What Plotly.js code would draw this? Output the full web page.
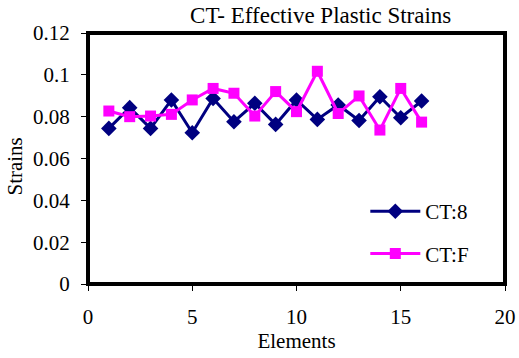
<!DOCTYPE html>
<html>
<head>
<meta charset="utf-8">
<script src="https://cdn.plot.ly/plotly-3.0.1.min.js"></script>
<style>html,body{margin:0;padding:0;background:#fff;}#chart{width:519px;height:358px;}</style>
</head>
<body>
<div id="chart"></div>
<script>
const elements = [1,2,3,4,5,6,7,8,9,10,11,12,13,14,15,16];
const ct8 = [0.0744,0.0843,0.0744,0.0880,0.0723,0.0887,0.0776,0.0864,0.0763,0.0880,0.0787,0.0856,0.0782,0.0895,0.0795,0.0875];
const ctF = [0.0827,0.0800,0.0803,0.0811,0.0880,0.0935,0.0912,0.0803,0.0920,0.0824,0.1017,0.0815,0.0899,0.0736,0.0935,0.0774];
const xTicks = [0,5,10,15,20];
const yTicks = [0,0.02,0.04,0.06,0.08,0.1,0.12];
const yTickText = ['0','0.02','0.04','0.06','0.08','0.1','0.12'];

const font = '"Liberation Serif", "Times New Roman", serif';

const traces = [
  {x: elements, y: ct8, name: 'CT:8', type: 'scatter', mode: 'lines+markers',
   legendgroup: 'a',
   line: {color: '#000080', width: 3},
   marker: {symbol: 'diamond', size: 12, color: '#000080'}},
  {x: elements, y: ctF, name: 'CT:F', type: 'scatter', mode: 'lines+markers',
   legendgroup: 'b',
   line: {color: '#FF00FF', width: 3},
   marker: {symbol: 'square', size: 11, color: '#FF00FF'}}
];

const layout = {
  width: 519, height: 358,
  margin: {l: 88, r: 14, t: 33, b: 74, pad: 0},
  paper_bgcolor: '#fff', plot_bgcolor: '#fff',
  font: {family: font, size: 21, color: '#000'},
  title: {text: 'CT- Effective Plastic Strains', font: {family: font, size: 23, color: '#000'},
          x: 0.558, xref: 'paper', xanchor: 'center', y: 0.958, yref: 'container', yanchor: 'middle'},
  xaxis: {range: [0, 20], tickvals: xTicks, ticktext: xTicks.map(String),
          showgrid: false, zeroline: false, showline: false,
          ticks: 'outside', ticklen: 6, tickwidth: 1, tickcolor: '#000',
          ticklabelstandoff: 8,
          tickfont: {family: font, size: 21},
          title: {text: 'Elements', font: {family: font, size: 21}, standoff: 4}},
  yaxis: {range: [0, 0.12], tickvals: yTicks, ticktext: yTickText,
          showgrid: false, zeroline: false, showline: false,
          ticks: 'outside', ticklen: 6, tickwidth: 1, tickcolor: '#000',
          ticklabelstandoff: 7,
          tickfont: {family: font, size: 21},
          title: {text: 'Strains&nbsp;&nbsp;&nbsp;', font: {family: font, size: 21}, standoff: 4}},
  showlegend: true,
  legend: {x: 0.665, y: 0.37, xanchor: 'left', yanchor: 'top',
           bgcolor: 'rgba(0,0,0,0)', borderwidth: 0,
           itemwidth: 50,
           traceorder: 'grouped', tracegroupgap: 12,
           font: {family: font, size: 21, color: '#000'}},
  shapes: [
    {type: 'rect', xref: 'paper', yref: 'paper', x0: 0, x1: 1, y0: 0, y1: 1,
     line: {color: '#000', width: 4}, fillcolor: 'rgba(0,0,0,0)', layer: 'above'}
  ]
};

Plotly.newPlot('chart', traces, layout, {displayModeBar: false, staticPlot: true});
</script>
</body>
</html>
